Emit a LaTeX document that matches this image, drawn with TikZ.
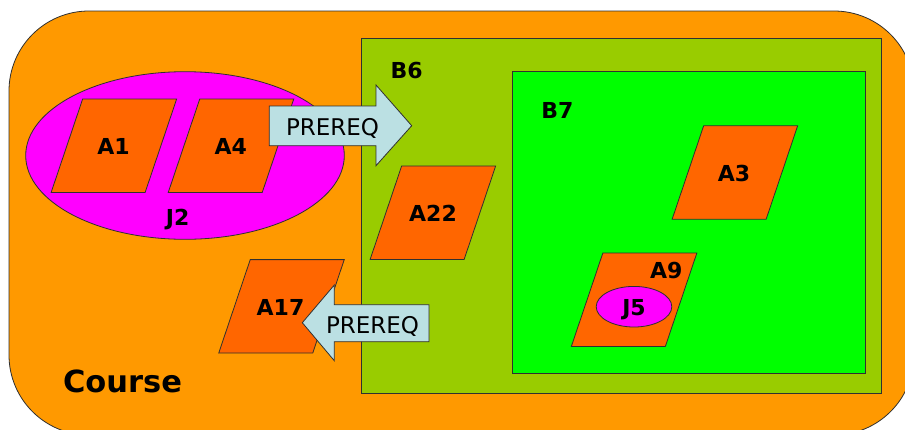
\documentclass[tikz,border=0pt]{standalone}
\usepackage{fontspec}
\setmainfont{DejaVu Sans}
\usetikzlibrary{shapes.geometric}
\definecolor{courseorange}{HTML}{FF9900}
\definecolor{boxolive}{HTML}{99CC00}
\definecolor{boxgreen}{HTML}{00FF00}
\definecolor{actorange}{HTML}{FF6600}
\definecolor{jmag}{HTML}{FF00FF}
\definecolor{arrowblue}{HTML}{BBE0E3}
\definecolor{edge}{HTML}{303030}
\tikzset{
  outline/.style={draw=edge, line width=0.8pt},
  lbl/.style={font=\fontsize{22}{26}\selectfont\bfseries, inner sep=0pt, anchor=base},
  arrowtxt/.style={font=\fontsize{23}{27}\selectfont, inner sep=0pt, anchor=base},
  para/.pic={\path[outline, fill=actorange] (-31.25,-46.7) -- (62.75,-46.7) -- (31.25,46.7) -- (-62.75,46.7) -- cycle;},
  block/.style={outline, fill=arrowblue},
}
\begin{document}
\begin{tikzpicture}[x=1pt,y=-1pt]
\useasboundingbox (0,0) rectangle (905,429);
\clip (0,0) rectangle (905,429);
% outer course
\node[outline, fill=courseorange, rectangle, rounded corners=80pt, minimum width=905pt, minimum height=424pt, inner sep=0pt] (coursebox) at (461.5,223) {};
% J2 group
\node[outline, fill=jmag, ellipse, minimum width=318.6pt, minimum height=167.6pt, inner sep=0pt] (J2shape) at (185,155.5) {};
\pic at (113.9,145.7) {para};
\pic at (231,145.7) {para};
\node[lbl] (A1) at (113.5,154) {A1};
\node[lbl] (A4) at (230.8,154) {A4};
\node[lbl] (J2) at (177.7,225) {J2};
% B6 and B7
\node[outline, fill=boxolive, rectangle, minimum width=520pt, minimum height=355pt, inner sep=0pt] (B6box) at (621.7,215.8) {};
\node[outline, fill=boxgreen, rectangle, minimum width=352.7pt, minimum height=301.6pt, inner sep=0pt] (B7box) at (688.7,222.5) {};
\node[lbl] (B6) at (406.7,78.3) {B6};
\node[lbl] (B7) at (557.3,118.3) {B7};
% A22
\pic at (432.9,212.7) {para};
\node[lbl] (A22) at (433,221) {A22};
% prereq arrow 1
\path[block] (269.3,106) -- (376,106) -- (376,85) -- (411.7,125.7) -- (376,165.7) -- (376,145.7) -- (269.3,145.7) -- cycle;
\node[arrowtxt] (P1) at (332.5,135) {PREREQ};
% A17 and arrow 2
\pic at (281.5,306.3) {para};
\node[lbl] (A17) at (280.5,315) {A17};
\path[block] (429,304.7) -- (334.3,304.7) -- (334.3,285) -- (302.3,322.7) -- (334.3,360.7) -- (334.3,341.7) -- (429,341.7) -- cycle;
\node[arrowtxt] (P2) at (372.5,333.3) {PREREQ};
% A3
\pic at (734.9,172.5) {para};
\node[lbl] (A3) at (734,181) {A3};
% A9 with J5
\pic at (634.1,299.7) {para};
\node[lbl] (A9) at (666.2,278.3) {A9};
\node[outline, fill=jmag, ellipse, minimum width=75.6pt, minimum height=40.6pt, inner sep=0pt] (J5shape) at (634,306.7) {};
\node[lbl] (J5) at (634,315) {J5};
% course label
\node[font=\fontsize{30.5}{34}\selectfont\bfseries, inner sep=0pt, anchor=base] (Course) at (122.5,392.7) {Course};
\end{tikzpicture}
\end{document}
